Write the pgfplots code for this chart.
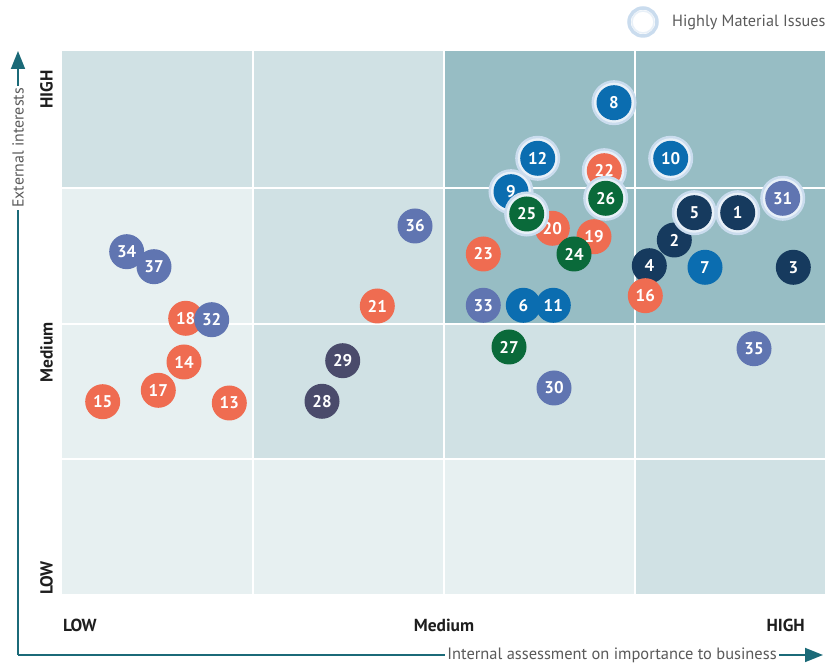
\documentclass[border=0pt]{standalone}
\usepackage{fontspec}
\setmainfont{PT Sans}
\usepackage{pgfplots}
\pgfplotsset{compat=1.18}
\usetikzlibrary{arrows.meta}
\definecolor{cL}{HTML}{E7F0F1}
\definecolor{cM}{HTML}{D0E1E4}
\definecolor{cD}{HTML}{97BDC4}
\definecolor{cB}{HTML}{0B6DB0}
\definecolor{cO}{HTML}{EF6C51}
\definecolor{cG}{HTML}{0A6A3A}
\definecolor{cN}{HTML}{163A5E}
\definecolor{cP}{HTML}{6075B1}
\definecolor{cS}{HTML}{4A4B6B}
\definecolor{haloA}{HTML}{CADCEE}
\definecolor{haloB}{HTML}{E8F0F8}
\definecolor{arrowc}{HTML}{1B6A78}
\definecolor{txtg}{HTML}{5A5A5A}
\definecolor{lblc}{HTML}{1E1E1E}
\pgfplotsset{
  dot/.style={only marks, mark=none, point meta=explicit symbolic,
    nodes near coords,
    every node near coord/.append style={anchor=center, circle, inner sep=0pt,
      minimum size=35bp, fill=#1, text=white,
      font=\bfseries\fontsize{17}{17}\selectfont}},
  halo/.style={every node near coord/.append style={
      preaction={draw=haloA, line width=10bp},
      preaction={draw=haloB, line width=5bp}}}
}

\begin{document}
\begin{tikzpicture}[x=1bp,y=1bp]
% background cells
\fill[cL] (0,0) rectangle (764,543);
\fill[cM] (0,406) rectangle (382,543);
\fill[cM] (191,135) rectangle (382,406);
\fill[cM] (382,135) rectangle (764,270);
\fill[cM] (573,0) rectangle (764,135);
\fill[cD] (382,270) rectangle (764,543);
\draw[white, line width=1.5bp] (191,0)--(191,543) (382,0)--(382,543) (573,0)--(573,543)
  (0,135)--(764,135) (0,270)--(764,270) (0,406)--(764,406);
% axis arrows
\draw[arrowc, line width=1.8bp, -{Triangle[length=18bp,width=14bp]}] (-44,-61) -- (-44,543);
\draw[arrowc, line width=1.8bp, -{Triangle[length=18bp,width=14bp]}] (-44,-61) -- (761,-61);
\node[fill=white, inner xsep=2bp, inner ysep=1bp, rotate=90, text=txtg, font=\fontsize{16}{16}\selectfont] at (-44,446) {External interests};
\node[fill=white, inner xsep=2bp, inner ysep=1bp, text=txtg, font=\fontsize{16.5}{16.5}\selectfont] at (550,-61) {Internal assessment on importance to business};
% level labels
\begin{scope}[every node/.style={text=lblc, font=\bfseries\fontsize{17.5}{17.5}\selectfont, inner sep=0pt}]
\node[rotate=90, anchor=east] at (-15.5,524) {HIGH};
\node[rotate=90, anchor=east] at (-15.5,272) {Medium};
\node[rotate=90, anchor=west] at (-15.5,-1) {LOW};
\node[anchor=west] at (1,-31) {LOW};
\node at (382,-31) {Medium};
\node[anchor=east] at (743,-31) {HIGH};
\end{scope}
% legend
\draw[haloA, line width=3.5bp, fill=white] (581,572) circle (14bp);
\draw[haloB, line width=1.5bp] (581,572) circle (11bp);
\node[anchor=west, text=txtg, font=\fontsize{16.3}{16.3}\selectfont, inner sep=0pt] at (610,572) {Highly Material Issues};
\begin{axis}[at={(0,0)}, anchor=south west, scale only axis,
  width=764bp, height=543bp,
  xmin=62, xmax=826, ymin=51, ymax=594, y dir=reverse,
  hide axis, clip=false]
% navy
\addplot[dot=cN] table[meta=n]{
x y n
674.3 240.0 2
649.3 265.7 4
793.3 267.3 3
};
\addplot[dot=cN, halo] table[meta=n]{
x y n
694.3 212.7 5
737.7 212.7 1
};
% blue
\addplot[dot=cB, halo] table[meta=n]{
x y n
614.0 102.7 8
537.7 158.3 12
670.7 158.3 10
511.0 191.7 9
};
\addplot[dot=cB] table[meta=n]{
x y n
705.0 267.3 7
523.3 305.3 6
553.3 305.3 11
};
% orange
\addplot[dot=cO, halo] table[meta=n]{
x y n
604.3 170.7 22
};
\addplot[dot=cO] table[meta=n]{
x y n
552.3 228.3 20
594.0 236.7 19
483.3 254.0 23
645.3 295.7 16
377.3 306.0 21
185.7 318.3 18
184.0 362.0 14
158.3 390.3 17
102.7 401.7 15
229.3 403.0 13
};
% periwinkle
\addplot[dot=cP, halo] table[meta=n]{
x y n
782.7 198.3 31
};
\addplot[dot=cP] table[meta=n]{
x y n
415.0 226.0 36
483.3 305.3 33
754.0 348.7 35
554.0 388.0 30
126.7 251.7 34
154.0 266.7 37
211.7 319.7 32
};
% green
\addplot[dot=cG, halo] table[meta=n]{
x y n
605.7 198.3 26
526.7 214.0 25
};
\addplot[dot=cG] table[meta=n]{
x y n
574.0 254.0 24
509.0 347.0 27
};
% slate
\addplot[dot=cS] table[meta=n]{
x y n
342.7 360.7 29
322.0 401.3 28
};
\end{axis}
\pgfresetboundingbox
\path[use as bounding box] (-62,-71) rectangle (763,594);
\end{tikzpicture}
\end{document}
